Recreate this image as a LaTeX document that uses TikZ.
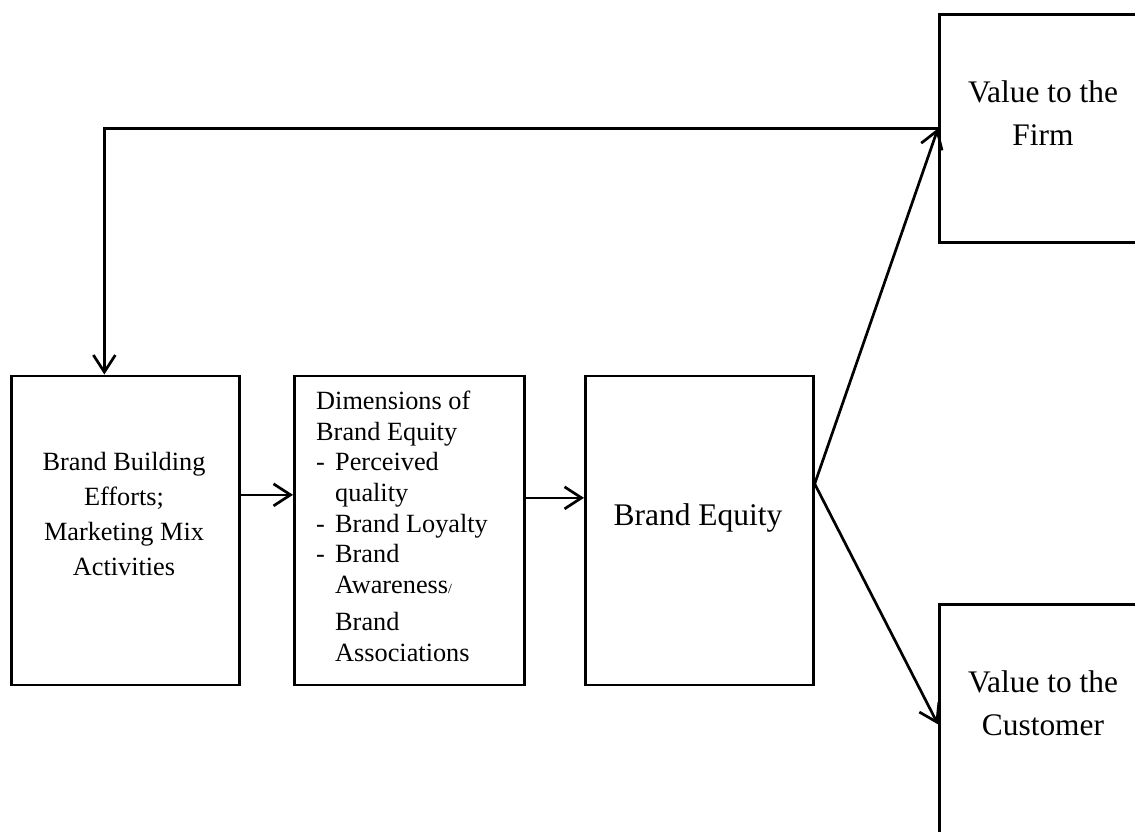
\documentclass[tikz,border=0pt]{standalone}
\usepackage{fontspec}
\setmainfont{Liberation Serif}
\usetikzlibrary{arrows.meta}
\begin{document}
\begin{tikzpicture}[x=1pt,y=-1pt,
  box/.style={draw,line width=2.7pt,inner sep=0pt,anchor=north west},
  link/.style={line width=2.7pt,-{Straight Barb[length=17pt,width=22pt]}},
  bodytext/.style={inner sep=0pt,font=\fontsize{26.3}{35}\selectfont},
  bigtext/.style={inner sep=0pt,font=\fontsize{31.4}{43}\selectfont}]
\useasboundingbox (0,0) rectangle (1135,831);
\clip (0,0) rectangle (1135,831);

% boxes
\node[box,minimum width=228pt,minimum height=309pt] (build) at (10,374.5) {};
\node[box,minimum width=230pt,minimum height=309pt] (dims) at (293,374.5) {};
\node[box,minimum width=228pt,minimum height=309pt] (equity) at (584,374.5) {};
\node[box,minimum width=222pt,minimum height=228pt] (firm) at (938,13) {};
\node[box,minimum width=222pt,minimum height=240pt] (customer) at (938,603) {};

% labels (multi-line nodes are anchored on the baseline of their last line)
\node[bodytext,align=center,anchor=base] (buildtext) at (124,575)
  {Brand Building\\Efforts;\\Marketing Mix\\Activities};
\node[bodytext,align=left,anchor=base west,font=\fontsize{26.3}{30.7}\selectfont] (dimstext) at (316,661)
  {Dimensions of\\Brand Equity\\
   \makebox[19pt][l]{-}Perceived\\
   \makebox[19pt][l]{}quality\\
   \makebox[19pt][l]{-}Brand Loyalty\\
   \makebox[19pt][l]{-}Brand\\
   \makebox[19pt][l]{}Awareness{\fontsize{14}{14}\selectfont/}\\[6pt]
   \makebox[19pt][l]{}Brand\\
   \makebox[19pt][l]{}Associations};
\node[bigtext,anchor=base,font=\fontsize{31.5}{43}\selectfont] (equitytext) at (698,525) {Brand Equity};
\node[bigtext,align=center,anchor=base] (firmtext) at (1043,145) {Value to the\\Firm};
\node[bigtext,align=center,anchor=base] (customertext) at (1043,735) {Value to the\\Customer};

% connectors
\draw[link] ([yshift=35.5pt]build.east) -- ([yshift=35.5pt]dims.west);
\draw[link] ([yshift=32.5pt]dims.east) -- ([yshift=32.5pt]equity.west);
\draw[link] ([yshift=46.5pt]equity.east) -- (firm.west);
\draw[link] ([yshift=46.5pt]equity.east) -- (customer.west);
\draw[link] (firm.west) -| ([xshift=-21pt]build.north);
\end{tikzpicture}
\end{document}
